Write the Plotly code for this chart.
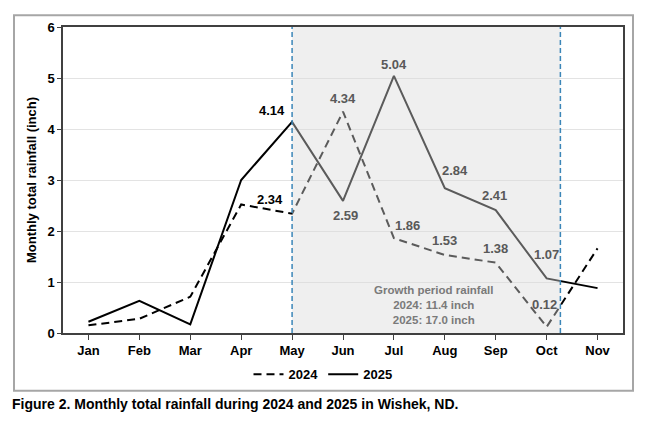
"""
Monthly total rainfall in Wishek, ND, 2024 vs 2025 (growth period shaded).
"""

import plotly.graph_objects as go

MONTHS = ["Jan", "Feb", "Mar", "Apr", "May", "Jun", "Jul", "Aug", "Sep", "Oct", "Nov"]
RAIN_2024 = [0.15, 0.28, 0.71, 2.52, 2.34, 4.34, 1.86, 1.53, 1.38, 0.12, 1.66]
RAIN_2025 = [0.22, 0.63, 0.17, 3.00, 4.14, 2.59, 5.04, 2.84, 2.41, 1.07, 0.88]
LABELLED = ["May", "Jun", "Jul", "Aug", "Sep", "Oct"]
Y_TICKS = [0, 1, 2, 3, 4, 5, 6]
NOTE = "Growth period rainfall<br>2024: 11.4 inch<br>2025: 17.0 inch"
CAPTION = "Figure 2. Monthly total rainfall during 2024 and 2025 in Wishek, ND."

# label offsets from each point, in pixels (dx right, dy down)
OFFS_2024 = {"May": (-22, -14), "Jun": (0, -13), "Jul": (14, -13),
             "Aug": (0, -14), "Sep": (0, -14), "Oct": (-2, -22)}
OFFS_2025 = {"May": (-20, -11), "Jun": (2, 15), "Jul": (0, -11),
             "Aug": (10, -18), "Sep": (-1, -15), "Oct": (0, -24)}

# the page sits 8px in from the window corner, so the figure is laid out
# in reference pixel coords and shifted back by that much
OFF = 8
W, H = 647, 422
PL, PT, PW, PH = 63, 21, 560, 312   # plot area in reference pixels
FONT = "Liberation Sans, Arial, sans-serif"
GREY_TEXT = "#595959"


def px_x(p):
    return (p - PL) / PW


def px_y(p):
    return (PT + PH - p) / PH


def add_labels(fig, values, offsets):
    for m, v in zip(MONTHS, values):
        if m not in LABELLED:
            continue
        dx, dy = offsets[m]
        color = "#000000" if m == "May" else GREY_TEXT
        fig.add_annotation(x=m, y=v, xref="x", yref="y", text=f"{v:.2f}",
                           showarrow=False, xshift=dx, yshift=-dy,
                           font=dict(family=FONT, size=13, color=color, weight="bold"))


def build_fig():
    fig = go.Figure()
    fig.add_trace(go.Scatter(
        x=MONTHS, y=RAIN_2024, name="2024", mode="lines",
        line=dict(color="#000000", width=2, dash="8px,5px"),
    ))
    fig.add_trace(go.Scatter(
        x=MONTHS, y=RAIN_2025, name="2025", mode="lines",
        line=dict(color="#000000", width=2),
    ))

    start = MONTHS.index("May")
    end = MONTHS.index("Oct") + 0.27
    # translucent grey overlay that also dims the lines beneath it
    fig.add_shape(type="rect", xref="x", yref="paper", x0=start, x1=end, y0=0, y1=1,
                  fillcolor="rgba(217,217,217,0.42)", line=dict(width=0), layer="above")
    for xv in (start, end):
        fig.add_shape(type="line", xref="x", yref="paper", x0=xv, x1=xv, y0=0, y1=1,
                      line=dict(color="#3b86b8", width=1.5, dash="5px,3px"), layer="above")

    # outer frame round the whole chart
    fig.add_shape(type="rect", xref="paper", yref="paper",
                  x0=px_x(14), x1=px_x(633), y0=px_y(392), y1=px_y(9),
                  line=dict(color="#a6a6a6", width=2), layer="below")

    add_labels(fig, RAIN_2024, OFFS_2024)
    add_labels(fig, RAIN_2025, OFFS_2025)

    fig.add_annotation(x=px_x(433), y=px_y(304), xref="paper", yref="paper",
                       xanchor="center", yanchor="middle",
                       text=NOTE, showarrow=False, align="center",
                       font=dict(family=FONT, size=11.5, color="#7a7a7a", weight="bold"))
    fig.add_annotation(x=px_x(10), y=px_y(405), xref="paper", yref="paper",
                       xanchor="left", yanchor="middle", text=CAPTION, showarrow=False,
                       font=dict(family=FONT, size=14, color="#000000", weight="bold"))

    fig.update_layout(
        width=W, height=H,
        margin=dict(l=PL - OFF, r=W - (PL - OFF) - PW, t=PT - OFF, b=H - (PT - OFF) - PH),
        paper_bgcolor="white", plot_bgcolor="white",
        font=dict(family=FONT, size=13, color="#000000"),
        showlegend=True,
        legend=dict(orientation="h", x=px_x(323), xanchor="center", y=px_y(375),
                    yanchor="middle", font=dict(size=13, weight="bold"),
                    itemwidth=30, bgcolor="rgba(0,0,0,0)"),
        xaxis=dict(
            type="category", range=[-0.5, len(MONTHS) - 0.5],
            showline=True, linecolor="#404040", linewidth=1.5, mirror=True,
            ticks="outside", ticklen=5, tickcolor="#404040",
            tickfont=dict(size=13, weight="bold"), showgrid=False,
        ),
        yaxis=dict(
            range=[0, 6], tickvals=Y_TICKS,
            showline=True, linecolor="#404040", linewidth=1.5, mirror=True,
            ticks="outside", ticklen=4, tickcolor="#404040",
            tickfont=dict(size=13, weight="bold"),
            showgrid=True, gridcolor="#e3e3e3", gridwidth=1, zeroline=False,
            title=dict(text="Monthly total rainfall (inch)",
                       font=dict(size=13, weight="bold"), standoff=8),
        ),
    )
    return fig


if __name__ == "__main__":
    fig = build_fig()
    fig.write_html("out.html")
